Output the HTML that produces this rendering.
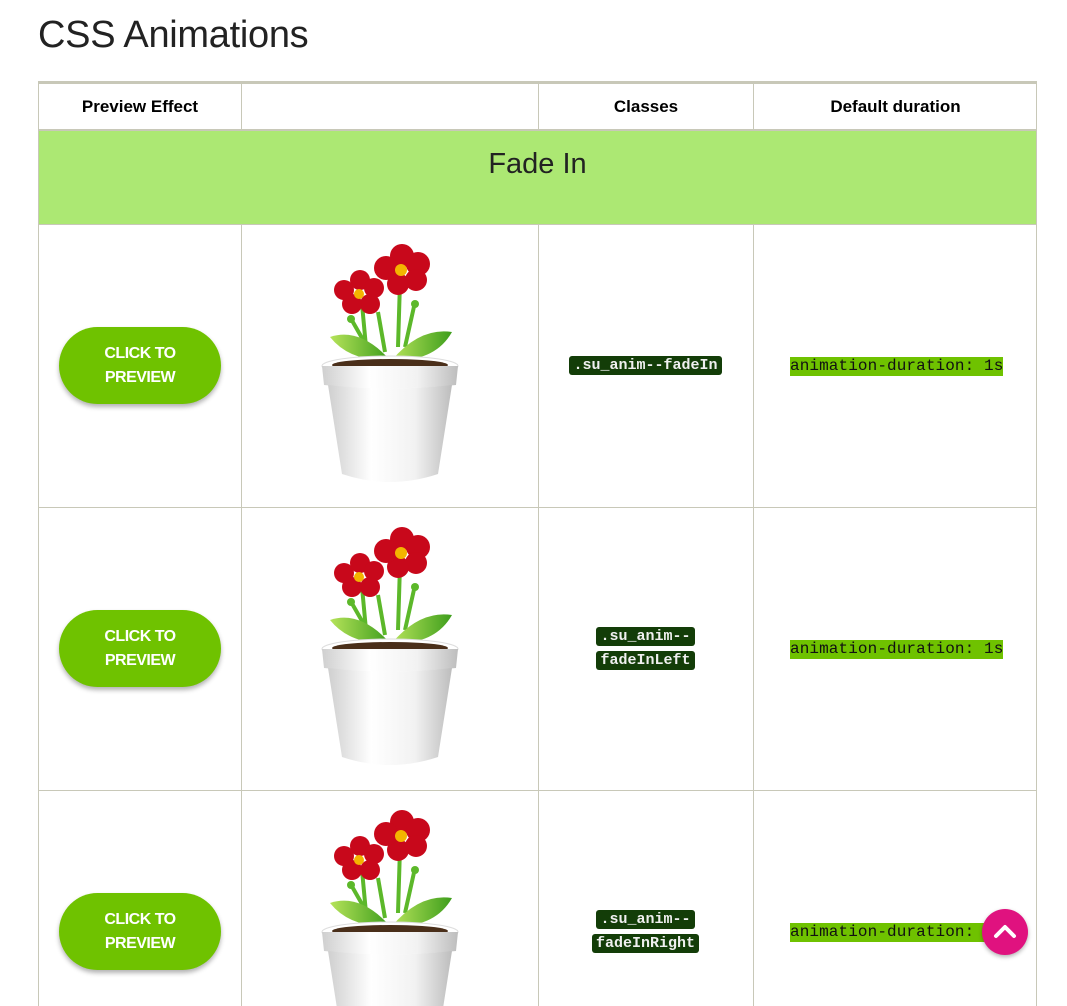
<!DOCTYPE html>
<html style="overflow:hidden;height:1006px"><head><style>
body{margin:0;background:#fff;width:1067px;height:1006px;overflow:hidden;font-family:"Liberation Sans",sans-serif;position:relative}
h1{position:absolute;left:38px;top:14px;margin:0;font-weight:normal;font-size:38px;color:#222;letter-spacing:-0.3px}
.line{position:absolute;background:#c8c8b8}
.hd{position:absolute;top:85px;height:44px;line-height:44px;text-align:center;font-weight:bold;font-size:17px;color:#000}
.btn{position:absolute;left:59px;width:162px;height:77px;border-radius:39px;background:#6fc200;color:#fff;font-weight:bold;font-size:16px;text-align:center;line-height:24px;box-shadow:0 3px 5px rgba(0,0,0,.3);box-sizing:border-box;padding-top:15px;letter-spacing:-0.5px}
.cls{position:absolute;font-family:"Liberation Mono",monospace;font-weight:bold;font-size:15px;color:#f0f0f0;text-align:center;width:215px;left:538px;line-height:24px}
.cls span{background:#133d08;border-radius:3px;padding:1px 4px}
.dur{position:absolute;left:790px;font-family:"Liberation Mono",monospace;font-size:16px;background:#6fc200;color:#111;height:19px;line-height:19px;padding:0;letter-spacing:0.1px}
.pot{position:absolute;left:320px;width:140px;height:245px}
</style></head><body>
<h1>CSS Animations</h1>
<svg width="0" height="0" style="position:absolute"><defs>
<linearGradient id="pg" x1="0" x2="1"><stop offset="0" stop-color="#cfcfcf"/><stop offset=".35" stop-color="#fff"/><stop offset=".7" stop-color="#f2f2f2"/><stop offset="1" stop-color="#bdbdbd"/></linearGradient>
<linearGradient id="lg" x1="0" x2="1"><stop offset="0" stop-color="#b6e35a"/><stop offset="1" stop-color="#3e9e1c"/></linearGradient>
<g id="fl">
<path d="M42 62 L46 105 M80 40 L78 105 M58 70 L65 110 M95 60 L85 105 M30 75 L50 110" stroke="#5cb82a" stroke-width="4" fill="none"/>
<path d="M10 95 Q40 85 70 118 Q30 120 10 95Z" fill="url(#lg)"/>
<path d="M132 90 Q100 85 72 118 Q115 120 132 90Z" fill="url(#lg)"/>
<g fill="#c8081b"><circle cx="82" cy="14" r="12"/><circle cx="98" cy="22" r="12"/><circle cx="96" cy="38" r="11"/><circle cx="78" cy="42" r="11"/><circle cx="66" cy="26" r="12"/>
<circle cx="40" cy="38" r="10"/><circle cx="54" cy="46" r="10"/><circle cx="50" cy="62" r="10"/><circle cx="32" cy="62" r="10"/><circle cx="24" cy="48" r="10"/></g>
<circle cx="81" cy="28" r="6" fill="#f4b400"/><circle cx="39" cy="52" r="5" fill="#f4b400"/>
<circle cx="95" cy="62" r="4" fill="#5cb82a"/><circle cx="31" cy="77" r="4" fill="#5cb82a"/>
<ellipse cx="70" cy="124" rx="68" ry="10" fill="#fff" stroke="#ddd"/>
<ellipse cx="70" cy="123" rx="58" ry="6" fill="#4a2f1a"/>
<path d="M2 124 L138 124 L136 143 Q70 150 4 143Z" fill="url(#pg)"/>
<path d="M8 143 Q70 150 132 143 L118 232 Q70 248 22 232Z" fill="url(#pg)"/>
</g></defs></svg>

<div class="line" style="left:38px;top:81px;width:999px;height:3px"></div>
<div class="line" style="left:38px;top:84px;width:1px;height:922px"></div>
<div class="line" style="left:1036px;top:84px;width:1px;height:922px"></div>
<div class="line" style="left:241px;top:84px;width:1px;height:46px"></div>
<div class="line" style="left:538px;top:84px;width:1px;height:46px"></div>
<div class="line" style="left:753px;top:84px;width:1px;height:46px"></div>
<div class="line" style="left:38px;top:129px;width:999px;height:2px"></div>
<div style="position:absolute;left:39px;top:131px;width:997px;height:93px;background:#ace873"></div>
<div style="position:absolute;left:39px;top:148px;width:997px;text-align:center;font-size:29px;color:#222">Fade In</div>
<div class="line" style="left:38px;top:224px;width:999px;height:1px"></div>
<div class="line" style="left:38px;top:507px;width:999px;height:1px"></div>
<div class="line" style="left:38px;top:790px;width:999px;height:1px"></div>
<div class="line" style="left:241px;top:225px;width:1px;height:781px"></div>
<div class="line" style="left:538px;top:225px;width:1px;height:781px"></div>
<div class="line" style="left:753px;top:225px;width:1px;height:781px"></div>

<div class="hd" style="left:39px;width:202px">Preview Effect</div>
<div class="hd" style="left:539px;width:214px">Classes</div>
<div class="hd" style="left:754px;width:283px">Default duration</div>

<div class="btn" style="top:327px">CLICK TO<br>PREVIEW</div>
<div class="btn" style="top:610px">CLICK TO<br>PREVIEW</div>
<div class="btn" style="top:893px">CLICK TO<br>PREVIEW</div>

<svg class="pot" style="top:242px" viewBox="0 0 140 245"><use href="#fl"/></svg>
<svg class="pot" style="top:525px" viewBox="0 0 140 245"><use href="#fl"/></svg>
<svg class="pot" style="top:808px;height:198px" viewBox="0 0 140 198" preserveAspectRatio="xMidYMin slice"><use href="#fl"/></svg>

<div class="cls" style="top:354px"><span>.su_anim--fadeIn</span></div>
<div class="cls" style="top:625px"><span>.su_anim--</span><br><span>fadeInLeft</span></div>
<div class="cls" style="top:908px"><span>.su_anim--</span><br><span>fadeInRight</span></div>

<div class="dur" style="top:357px">animation-duration: 1s</div>
<div class="dur" style="top:640px">animation-duration: 1s</div>
<div class="dur" style="top:923px">animation-duration: 1s</div>

<div style="position:absolute;left:982px;top:909px;width:46px;height:46px;border-radius:50%;background:#e0127f;box-shadow:0 2px 4px rgba(0,0,0,.3)">
<svg width="46" height="46"><path d="M14 27 L23 18 L32 27" stroke="#fff" stroke-width="4" fill="none" stroke-linecap="round" stroke-linejoin="round"/></svg></div>
</body></html>
